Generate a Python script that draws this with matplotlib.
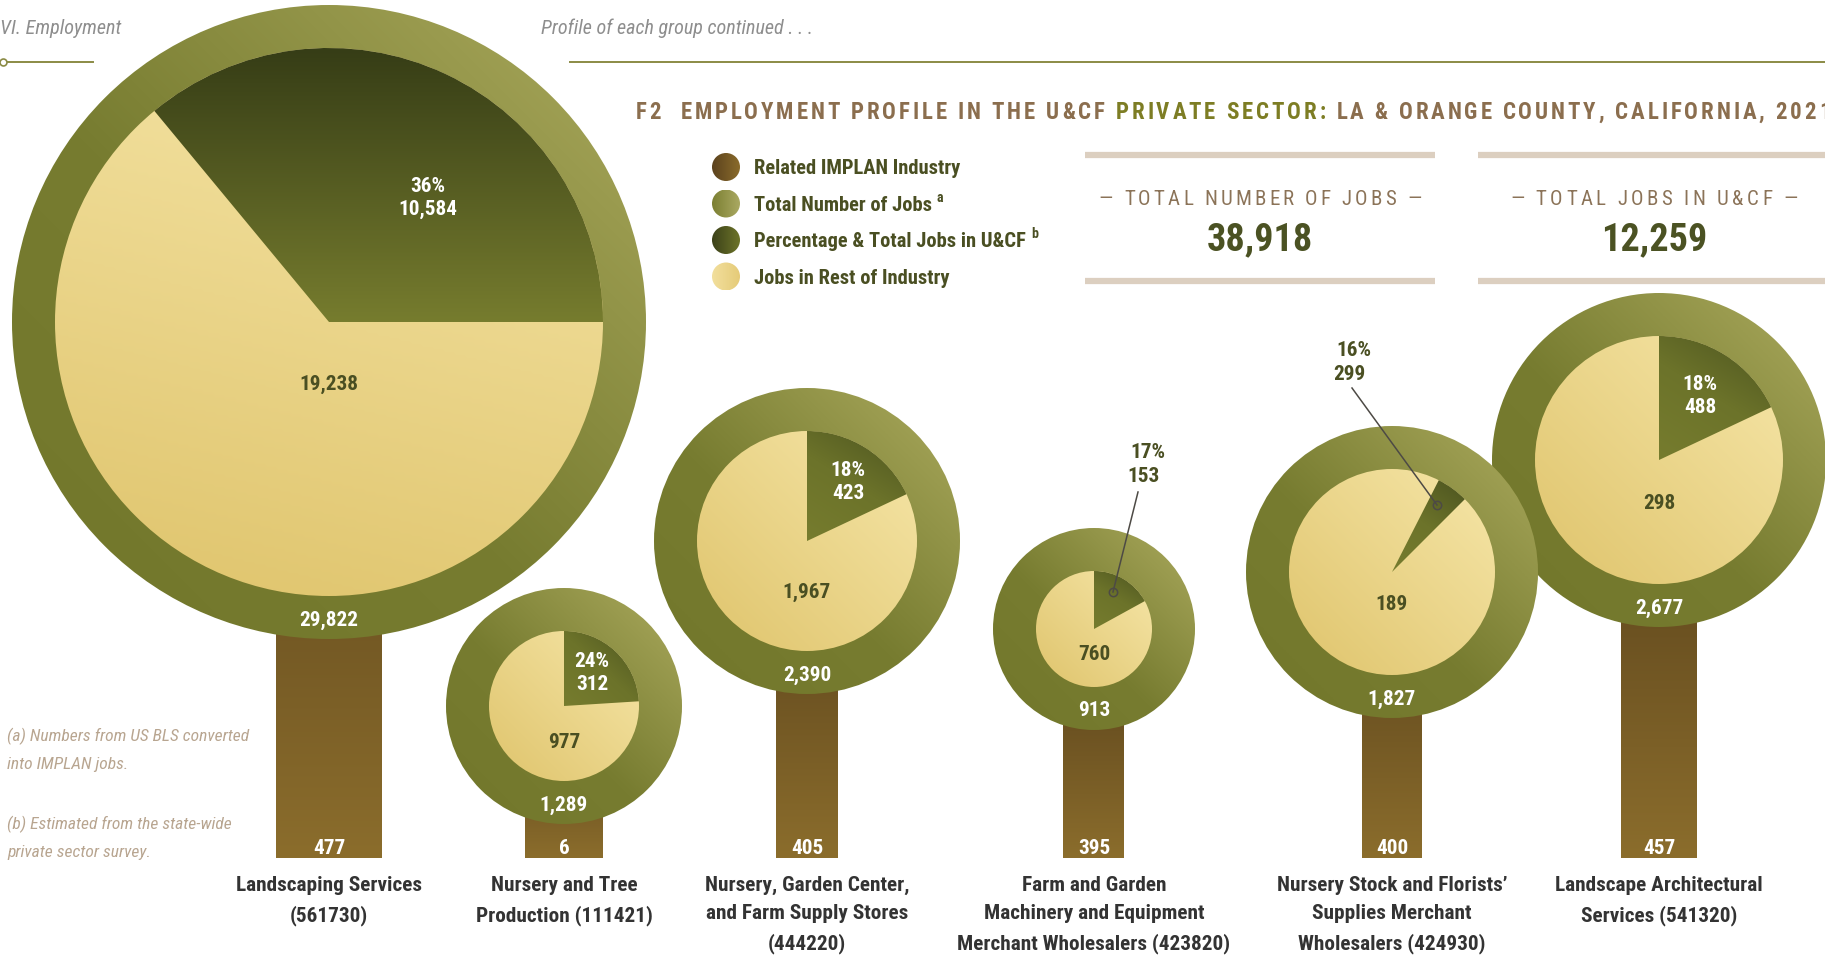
"""Employment profile tree infographic for the U&CF private sector."""

import os
import numpy as np
import matplotlib
matplotlib.use("Agg")
import matplotlib.pyplot as plt
import matplotlib.font_manager as fm
from matplotlib.patches import Circle, Wedge, Rectangle
from matplotlib.colors import LinearSegmentedColormap
from matplotlib.font_manager import FontProperties

# ---- data ----
categories = [
    "Landscaping Services\n(561730)",
    "Nursery and Tree\nProduction (111421)",
    "Nursery, Garden Center,\nand Farm Supply Stores\n(444220)",
    "Farm and Garden\nMachinery and Equipment\nMerchant Wholesalers (423820)",
    "Nursery Stock and Florists\u2019\nSupplies Merchant\nWholesalers (424930)",
    "Landscape Architectural\nServices (541320)",
]
industry_jobs = [477, 6, 405, 395, 400, 457]
total_jobs = [29822, 1289, 2390, 913, 1827, 2677]
ucf_pct = [36, 24, 18, 17, 16, 18]
ucf_jobs = [10584, 312, 423, 153, 299, 488]
rest_jobs = [19238, 977, 1967, 760, 189, 298]
grand_total = 38918
grand_ucf = 12259

# ---- layout (pixels) ----
W, H = 1825, 958
cx = [329, 564, 807, 1094, 1392, 1659]
cy = [322, 706, 541, 629, 572, 460]
r_out = [317, 118, 153, 101, 146, 167]
ring_w = 43
trunk_w = [106, 78, 62, 61, 60, 76]
trunk_bottom = 858
rest_dy = [59, 33, 48, 22, 29, 40]
wedge_lab = [(99, -127), (28, -36), (41, -62), None, None, (41, -67)]
outside_lab = {3: ((1127, 449), (1138, 492), (1113, 592)),
               4: ((1333, 347), (1352, 388), (1437, 505))}
draw_rank = [0, 1, 2, 3, 5, 4]

BROWN_T = "#8b6e4e"
OLIVE_T = "#7d7d24"
DARK_T = "#4a4f22"


def find_font(bold, italic):
    cands = []
    for f in fm.fontManager.ttflist:
        b = os.path.basename(f.fname).lower()
        if "narrow" not in b and "condensed" not in b:
            continue
        if any(k in b for k in ["mono", "serif", "semi", "extra", "ultra", "light",
                                "thin", "medium", "black", "demi", "heavy"]):
            continue
        if "noto" in b and not b.startswith("notosans-"):
            continue
        if ("bold" in b) != bold or (("italic" in b) or ("oblique" in b)) != italic:
            continue
        rank = 0 if "liberation" in b else 1 if "roboto" in b else 2 if "noto" in b else 3
        cands.append((rank, f.fname))
    return sorted(cands)[0][1] if cands else None


FILES = {(b, i): find_font(b, i) for b in (False, True) for i in (False, True)}


def FP(size, bold=False, italic=False):
    path = FILES[(bold, italic)]
    if path:
        return FontProperties(fname=path, size=size)
    return FontProperties(family=["Roboto", "DejaVu Sans"], size=size,
                          weight="bold" if bold else "normal",
                          style="italic" if italic else "normal")


fig = plt.figure(figsize=(W / 100, H / 100), dpi=100)
ax = fig.add_axes([0, 0, 1, 1])
ax.set_xlim(0, W)
ax.set_ylim(H, 0)
ax.axis("off")
renderer = fig.canvas.get_renderer()


def text_w(s, fp):
    w, _, _ = renderer.get_text_width_height_descent(s, fp, ismath=False)
    return w


def fit(s, target, base, bold=False, italic=False):
    return base * target / text_w(s, FP(base, bold, italic))


# size factor so that widths follow the original typeface
k_bold = fit("Landscaping Services", 186, 15, bold=True) / 15
k_bold = min(max(k_bold, 0.7), 1.15)
NUM = 15 * k_bold


def put(x, y, s, size, color, bold=True, italic=False, ha="center", va="center",
        z=8, **kw):
    ax.text(x, y, s, fontproperties=FP(size, bold, italic), color=color, ha=ha,
            va=va, zorder=z, **kw)


def tracked(x, y, s, fp, color, track=0.0, ha="left"):
    sp = text_w("a a", fp) - text_w("aa", fp)
    widths = [sp if c == " " else text_w(c, fp) for c in s]
    total = sum(widths) + track * (len(s) - 1)
    if ha == "center":
        x -= total / 2
    for c, w in zip(s, widths):
        if c != " ":
            ax.text(x, y, c, fontproperties=fp, color=color, va="center", ha="left")
        x += w + track
    return x


def natural(s, fp):
    sp = text_w("a a", fp) - text_w("aa", fp)
    return sum(sp if c == " " else text_w(c, fp) for c in s)


def grad(patch, stops, direction, z):
    patch.set_facecolor("none")
    patch.set_edgecolor("none")
    patch.set_zorder(z)
    ax.add_patch(patch)
    ext = patch.get_patch_transform().transform_path(patch.get_path()).get_extents()
    n = 200
    X, Y = np.meshgrid(np.linspace(ext.x0, ext.x1, n), np.linspace(ext.y0, ext.y1, n))
    p = X * direction[0] + Y * direction[1]
    t = (p - p.min()) / (p.max() - p.min())
    cmap = LinearSegmentedColormap.from_list("g", stops)
    im = ax.imshow(t, extent=(ext.x0, ext.x1, ext.y1, ext.y0), origin="upper",
                   cmap=cmap, vmin=0, vmax=1, interpolation="bilinear",
                   zorder=z, aspect="auto")
    im.set_clip_path(patch)


RING = [(0, "#72772b"), (0.45, "#777c30"), (1, "#abaa5e")]
PIE = [(0, "#dfc46c"), (1, "#f6e6a8")]
TRUNK = [(0, "#553e1a"), (1, "#8b6d2c")]
DY = 3  # number labels sit slightly low in the original

# trunks and category labels
for i in range(6):
    tr = Rectangle((cx[i] - trunk_w[i] / 2, cy[i]), trunk_w[i], trunk_bottom - cy[i])
    grad(tr, TRUNK, (0, 1), 5)
    put(cx[i], 846 + DY, f"{industry_jobs[i]:,}", NUM, "white", z=6)
    put(cx[i], 876, categories[i], NUM, "#333333", va="top", linespacing=1.62)

# crowns (screen angles; the y axis is inverted so wedge angles are negated)
for i in range(6):
    z = 10 + 10 * draw_rank[i]
    ri = r_out[i] - ring_w
    grad(Circle((cx[i], cy[i]), r_out[i]), RING, (1, -1), z)
    pie_dir = (0.25, -1) if i == 0 else (1, -1)
    grad(Circle((cx[i], cy[i]), ri), PIE, pie_dir, z + 1)
    span = ucf_pct[i] * 3.6
    if i == 0:
        th1, th2 = 0, span
    else:
        th1, th2 = 90 - span, 90
        if i == 4:  # drawn as a narrow sliver in the original
            th1, th2 = 45, 63
    wg = Wedge((cx[i], cy[i]), ri, -th2, -th1)
    if i == 0:
        grad(wg, [(0, "#767c2e"), (1, "#363d16")], (0, -1), z + 2)
    else:
        mid = np.deg2rad((th1 + th2) / 2)
        grad(wg, [(0, "#767c2e"), (0.5, "#6c732a"), (1, "#4c5420")],
             (np.cos(mid), -np.sin(mid)), z + 2)
    put(cx[i], cy[i] + r_out[i] - 22 + DY, f"{total_jobs[i]:,}", NUM, "white", z=z + 4)
    put(cx[i], cy[i] + rest_dy[i] + DY, f"{rest_jobs[i]:,}", NUM, DARK_T, z=z + 4)
    if wedge_lab[i] is not None:
        lx, ly = cx[i] + wedge_lab[i][0], cy[i] + wedge_lab[i][1] + DY
        put(lx, ly - 11.5, f"{ucf_pct[i]}%", NUM, "white", z=z + 4)
        put(lx, ly + 11.5, f"{ucf_jobs[i]:,}", NUM, "white", z=z + 4)
    else:
        (tx, ty), p0, p1 = outside_lab[i]
        put(tx + 3, ty + DY, f"{ucf_pct[i]}%", NUM, DARK_T, ha="left", z=z + 4)
        put(tx, ty + 24 + DY, f"{ucf_jobs[i]:,}", NUM, DARK_T, ha="left", z=z + 4)
        ax.plot([p0[0], p1[0]], [p0[1], p1[1]], color="#4d4a45", lw=1.1,
                zorder=z + 5)
        ax.plot([p1[0]], [p1[1]], marker="o", ms=6, mfc="none", mec="#4d4a45",
                mew=1.1, zorder=z + 5)

# header
hdr = "Profile of each group continued . . ."
hs = fit(hdr, 274, 14, italic=True)
put(0, 28, "VI. Employment", hs, "#8e8e8e", bold=False, italic=True, ha="left")
put(541, 28, hdr, hs, "#8e8e8e", bold=False, italic=True, ha="left")
ax.plot([3, 93], [62, 62], color="#8b8b45", lw=1.4, zorder=2)
ax.plot([3], [62], marker="o", ms=5, mfc="white", mec="#8b8b45", mew=1.2, zorder=3)
ax.plot([570, W], [62, 62], color="#8b8b45", lw=1.4, zorder=2)

# title with letter spacing
segs = [("F2  EMPLOYMENT PROFILE IN THE U&CF ", BROWN_T),
        ("PRIVATE SECTOR:", OLIVE_T),
        (" LA & ORANGE COUNTY, CALIFORNIA, 2021", BROWN_T)]
tfp = FP(16.5, bold=True)
full = "".join(s for s, _ in segs)
nat = natural(full[:-1], tfp)
track = max((1180 - nat) / (len(full) - 2), 0)
x = 636
for seg, col in segs:
    x = tracked(x, 112, seg, tfp, col, track=track)

# legend
leg_items = [("Related IMPLAN Industry", "", ["#5b421e", "#8a6b2b"]),
             ("Total Number of Jobs", "a", ["#7b7f32", "#aaa962"]),
             ("Percentage & Total Jobs in U&CF", "b", ["#3b4119", "#6d7429"]),
             ("Jobs in Rest of Industry", "", ["#f2df9d", "#e5cb78"])]
ls = fit("Related IMPLAN Industry", 206, 14.5, bold=True)
for k, (lab, sup, cols) in enumerate(leg_items):
    y = 167 + 36.5 * k
    grad(Circle((726, y), 14), cols, (1, 0), 3)
    put(754, y + 1.5, lab, ls, DARK_T, ha="left")
    if sup:
        wl = text_w(lab, FP(ls, True))
        put(754 + wl + 5, y - 6, sup, ls * 0.68, DARK_T, ha="left")

# stat boxes
sfp = FP(15)
for (x0, x1), xc, lab, tw, val in [
        ((1085, 1435), 1260, "\u2014 TOTAL NUMBER OF JOBS \u2014", 323, grand_total),
        ((1478, W + 5), 1654, "\u2014 TOTAL JOBS IN U&CF \u2014", 288, grand_ucf)]:
    ax.plot([x0, x1], [155, 155], color="#dccfc0", lw=4.5, solid_capstyle="butt")
    ax.plot([x0, x1], [281, 281], color="#dccfc0", lw=4.5, solid_capstyle="butt")
    tr_ = max((tw - natural(lab, sfp)) / (len(lab) - 1), 0)
    tracked(xc, 199, lab, sfp, "#8b7358", track=tr_, ha="center")
    put(xc, 240, f"{val:,}", 27 * k_bold, "#4b5223")

# footnotes
fs_note = fit("(a) Numbers from US BLS converted", 243, 14, italic=True)
for y, s in [(736, "(a) Numbers from US BLS converted"), (765, "into IMPLAN jobs."),
             (824, "(b) Estimated from the state-wide"), (853, "private sector survey.")]:
    put(7, y, s, fs_note, "#b8a590", bold=False, italic=True, ha="left")

ax.set_xlim(0, W)
ax.set_ylim(H, 0)
fig.savefig("out.png", dpi=100)
plt.close(fig)
